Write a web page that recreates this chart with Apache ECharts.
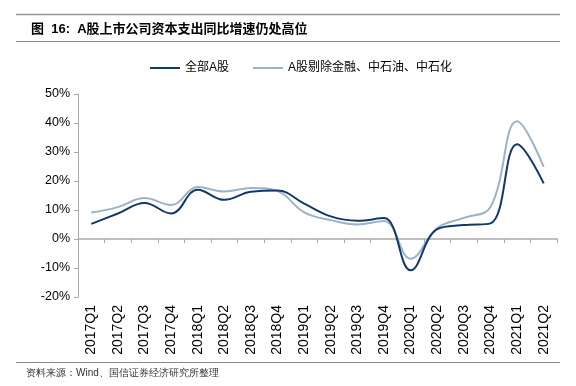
<!DOCTYPE html>
<html><head><meta charset="utf-8">
<script src="https://cdn.jsdelivr.net/npm/echarts@6/dist/echarts.min.js"></script>
<style>html,body{margin:0;padding:0;background:#fff}#c{width:576px;height:386px}</style>
</head><body><div id="c"></div>
<script>
var categories = ['2017Q1','2017Q2','2017Q3','2017Q4','2018Q1','2018Q2','2018Q3','2018Q4','2019Q1','2019Q2','2019Q3','2019Q4','2020Q1','2020Q2','2020Q3','2020Q4','2021Q1','2021Q2'];
var allA = [5.2, 8.8, 12.4, 8.8, 17.0, 13.5, 16.3, 16.7, 12.2, 7.8, 6.3, 7.2, -10.8, 3.4, 4.8, 5.4, 32.7, 19.2];
var exFin = [9.1, 11.0, 14.1, 11.7, 17.9, 16.4, 17.6, 16.5, 9.2, 6.5, 5.0, 6.2, -6.8, 3.8, 7.3, 11.0, 40.6, 24.9];
var yTicks = [-20, -10, 0, 10, 20, 30, 40, 50];
var seriesNames = ['全部A股', 'A股剔除金融、中石油、中石化'];
var titleText = '图  16:  A股上市公司资本支出同比增速仍处高位';
var sourceText = '资料来源：Wind、国信证券经济研究所整理';

var font = "'Liberation Sans','Noto Sans CJK SC',sans-serif";
var chart = echarts.init(document.getElementById('c'), null, {renderer:'canvas'});
chart.setOption({
  animation: false,
  textStyle: {fontFamily: font},
  title: {text: titleText, left: 26, top: 18, textStyle: {fontSize: 13, fontWeight: 'bold', color: '#000', fontFamily: font}},
  graphic: [
    {type:'line', shape:{x1:16,y1:14.5,x2:560,y2:14.5}, style:{stroke:'#999', lineWidth:1.5}},
    {type:'line', shape:{x1:16,y1:41.5,x2:560,y2:41.5}, style:{stroke:'#888', lineWidth:1}},
    {type:'line', shape:{x1:16,y1:362.5,x2:560,y2:362.5}, style:{stroke:'#888', lineWidth:1}},
    {type:'text', left: 26, top: 368, style:{text: sourceText, fontSize: 10, fill:'#333', font: "10px 'Noto Sans CJK SC',sans-serif"}}
  ],
  legend: {
    left: 145, top: 57, itemWidth: 30, itemHeight: 2, itemGap: 24, icon: 'rect',
    textStyle: {fontSize: 12, color: '#000', fontFamily: font},
    data: seriesNames
  },
  grid: {left: 78, right: 19, top: 94, bottom: 89, containLabel: false, outerBoundsMode: 'none'},
  xAxis: {
    type: 'category', data: categories, boundaryGap: true,
    axisLine: {onZero: true, lineStyle: {color: '#aaa', width: 1.5}},
    axisTick: {show: true, alignWithLabel: false, length: 4, lineStyle: {color: '#aaa'}},
    axisLabel: {rotate: 90, margin: 8, fontSize: 14, color: '#000', interval: 0, fontFamily: font}
  },
  yAxis: {
    type: 'value', min: -20, max: 50, interval: 10,
    axisLine: {show: true, lineStyle: {color: '#aaa'}},
    axisTick: {show: true, length: 4, lineStyle: {color: '#aaa'}},
    splitLine: {show: false},
    axisLabel: {formatter: function(v){ return yTicks.indexOf(v) >= 0 ? v + '%' : ''; }, fontSize: 12.5, color: '#000', margin: 8, fontFamily: font}
  },
  series: [
    {name: seriesNames[0], type: 'line', data: allA, smooth: 0.4, showSymbol: false, lineStyle: {color: '#12386a', width: 2}, itemStyle: {color: '#12386a'}, z: 3},
    {name: seriesNames[1], type: 'line', data: exFin, smooth: 0.4, showSymbol: false, lineStyle: {color: '#9db2c6', width: 2}, itemStyle: {color: '#9db2c6'}, z: 2}
  ]
});
</script></body></html>
